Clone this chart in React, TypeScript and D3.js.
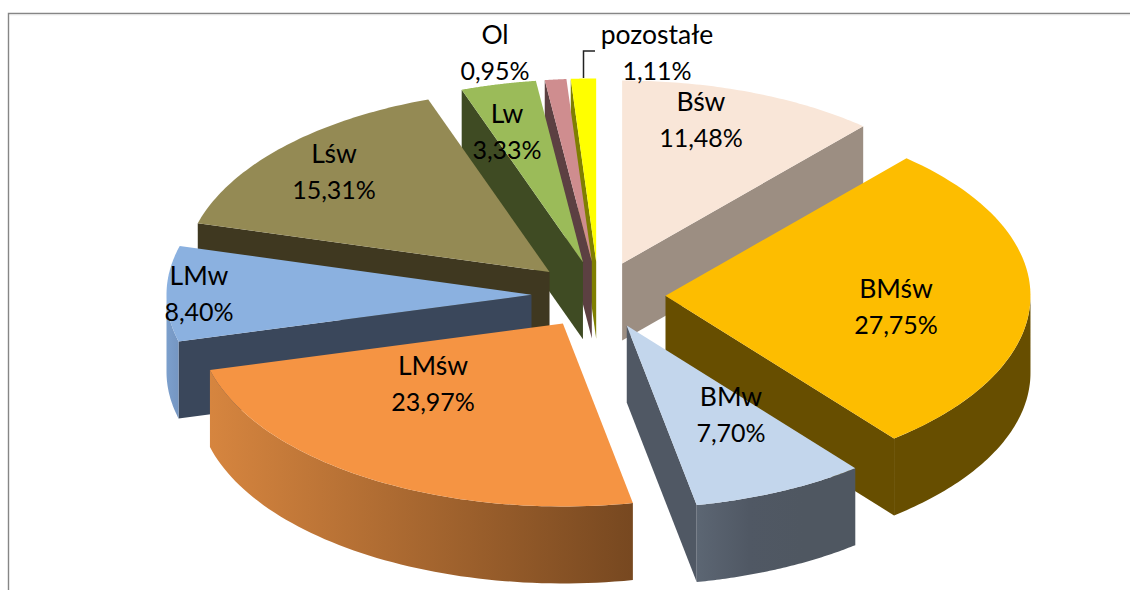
import * as d3 from 'd3';

const categories = ['Bśw', 'BMśw', 'BMw', 'LMśw', 'LMw', 'Lśw', 'Lw', 'Ol', 'pozostałe'];
const shares = [11.48, 27.75, 7.7, 23.97, 8.4, 15.31, 3.33, 0.95, 1.11];
const topColors = ['#F9E6D8', '#FDBD00', '#C3D6EC', '#F59443', '#8BB1E0', '#948A54', '#9BBB59', '#CF8D8F', '#FFFF00'];
const edgeColors = ['#9C8E82', '#674E00', '#505864', '#7A4A22', '#3A475B', '#3F3820', '#3F4B23', '#5C4042', '#7F7F00'];
// rim shading, stops spread evenly from left to right
const rimColors = [
    ['#9C8E82', '#9C8E82'],
    ['#674E00', '#674E00'],
    ['#5C6673', '#505864', '#4F5761', '#4F5761'],
    ['#D6853F', '#774820'],
    ['#7C9FCC', '#7596C2'],
    ['#3F3820', '#3F3820'],
    ['#3F4B23', '#3F4B23'],
    ['#5C4042', '#5C4042'],
    ['#7F7F00', '#7F7F00'],
];
// painter's order, back to front
const drawOrder = [0, 1, 2, 8, 7, 6, 5, 4, 3];
// label centres, picked by hand like the data labels in the original
const labelCenters = [
    [701, 120], [896, 307], [731, 415], [433, 384], [199, 294], [334, 172], [507, 132], [495, 53], [657, 53],
];

const width = 1130;
const height = 590;
const cx = 598.5;
const cy = 295;
const rx = 365;
const ry = 183;
const depth = 77;
const explode = 67;

const fmt = (v: number) => v.toFixed(2).replace('.', ',') + '%';

const pie = d3.pie<number>().sort(null).value(d => d);
const arcs = pie(shares);

const line = d3.line<[number, number]>();

function Slice({ arc, i }: { arc: d3.PieArcDatum<number>; i: number }) {
    const a0 = arc.startAngle;
    const a1 = arc.endAngle;
    const mid = (a0 + a1) / 2;
    const ox = cx + Math.sin(mid) * explode;
    const oy = cy - Math.cos(mid) * explode * (ry / rx);
    const at = (a: number, dz = 0): [number, number] => [ox + Math.sin(a) * rx, oy - Math.cos(a) * ry + dz];

    const samples = (from: number, to: number) => d3.range(0, 61).map(k => from + (to - from) * k / 60);

    const top = [[ox, oy] as [number, number], ...samples(a0, a1).map(a => at(a))];

    // the wall of a straight edge only shows when it faces the viewer
    const edge = (a: number) => [[ox, oy], at(a), at(a, depth), [ox, oy + depth]] as [number, number][];

    // the rim only shows on the front half of the ellipse
    const r0 = Math.max(a0, Math.PI / 2);
    const r1 = Math.min(a1, Math.PI * 1.5);
    const hasRim = r1 > r0;
    const rim = hasRim
        ? [...samples(r0, r1).map(a => at(a)), ...samples(r0, r1).reverse().map(a => at(a, depth))]
        : [];
    const rimXs = hasRim ? d3.extent(rim, p => p[0]) as [number, number] : [0, 1];

    return (
        <g>
            {hasRim && (
                <linearGradient id={`rim${i}`} gradientUnits="userSpaceOnUse" x1={rimXs[0]} x2={rimXs[1]} y1={0} y2={0}>
                    {rimColors[i].map((c, k) => (
                        <stop key={k} offset={k / (rimColors[i].length - 1)} stopColor={c} />
                    ))}
                </linearGradient>
            )}
            {Math.sin(a0) < 0 && <path d={line(edge(a0)) + 'Z'} fill={edgeColors[i]} />}
            {Math.sin(a1) > 0 && <path d={line(edge(a1)) + 'Z'} fill={edgeColors[i]} />}
            {hasRim && <path d={line(rim) + 'Z'} fill={`url(#rim${i})`} />}
            <path d={line(top) + 'Z'} fill={topColors[i]} />
        </g>
    );
}

export default function App() {
    return (
        <svg width={width} height={height} style={{ position: 'absolute', left: 0, top: 0, background: '#fff' }}>
            <path d={`M8.5 ${height}V13.5H${width}`} fill="none" stroke="#868686" strokeWidth={1.4} />
            <path d={`M10 14.8H${width}`} fill="none" stroke="#E4E4E4" strokeWidth={1} />
            {drawOrder.map(i => <Slice key={categories[i]} arc={arcs[i]} i={i} />)}
            <path d="M583.5 78V51H595" fill="none" stroke="#222" strokeWidth={1.5} />
            <g fontFamily="Lato, 'Open Sans', sans-serif" fill="#000" textAnchor="middle">
                {categories.map((c, i) => (
                    <text key={c} x={labelCenters[i][0]} y={labelCenters[i][1]}>
                        <tspan x={labelCenters[i][0]} dy={-9} fontSize={26.5}>{c}</tspan>
                        <tspan x={labelCenters[i][0]} dy={35.5} fontSize={25}>{fmt(shares[i])}</tspan>
                    </text>
                ))}
            </g>
        </svg>
    );
}
